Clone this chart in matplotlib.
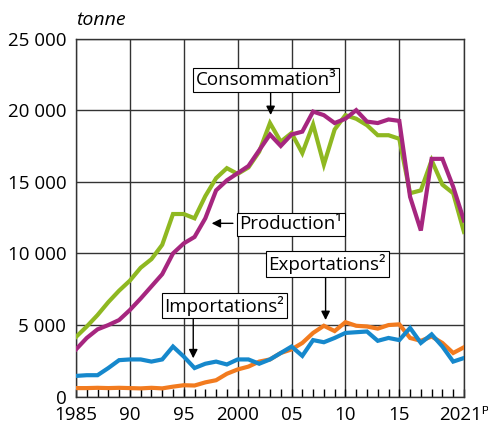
import matplotlib.pyplot as plt
import numpy as np

plt.rcParams["font.family"] = ["Open Sans", "DejaVu Sans"]

# ----------------------------- data (tonnes) -----------------------------
YEARS = list(range(1985, 2022))

CONSOMMATION = [4170, 4900, 5700, 6600, 7400, 8100, 9000, 9600, 10600, 12750,
                12750, 12450, 14000, 15250, 15950, 15550, 16000, 17100, 19100, 17800,
                18400, 17000, 19000, 16200, 18650, 19650, 19400, 18950, 18250, 18250,
                18000, 14200, 14400, 16500, 14800, 14200, 11500]

PRODUCTION = [3300, 4100, 4700, 5000, 5350, 6050, 6850, 7700, 8550, 10000,
              10700, 11150, 12450, 14400, 15100, 15600, 16100, 17200, 18300, 17500,
              18300, 18500, 19900, 19650, 19100, 19400, 20000, 19200, 19100, 19350,
              19250, 13950, 11600, 16600, 16600, 14650, 12300]

IMPORTATIONS = [1450, 1500, 1500, 2000, 2550, 2600, 2600, 2450, 2600, 3500,
                2800, 2000, 2300, 2450, 2250, 2600, 2600, 2300, 2600, 3050,
                3500, 2850, 3950, 3800, 4100, 4450, 4500, 4550, 3900, 4100,
                3950, 4800, 3750, 4350, 3500, 2450, 2700]

EXPORTATIONS = [600, 600, 620, 600, 620, 600, 580, 620, 580, 700,
                800, 780, 1000, 1150, 1600, 1900, 2100, 2450, 2600, 3050,
                3300, 3750, 4450, 4950, 4580, 5200, 4950, 4900, 4750, 5000,
                5050, 4100, 3900, 4200, 3750, 3050, 3450]

Y_TICKS = [0, 5000, 10000, 15000, 20000, 25000]
Y_LABELS = ["0", "5 000", "10 000", "15 000", "20 000", "25 000"]
X_TICKS = [1985, 1990, 1995, 2000, 2005, 2010, 2015, 2021]
X_LABELS = ["1985", "90", "95", "2000", "05", "10", "15", "2021ᴾ"]

GREEN = "#8fb821"
PURPLE = "#a6267f"
BLUE = "#1688cc"
ORANGE = "#f27b1f"

fig = plt.figure(figsize=(4.89, 4.26), dpi=100)
ax = fig.add_axes([0.1554, 0.0688, 0.7934, 0.8408])

ax.plot(YEARS, EXPORTATIONS, color=ORANGE, lw=3, solid_joinstyle="miter", zorder=3)
ax.plot(YEARS, IMPORTATIONS, color=BLUE, lw=3, solid_joinstyle="miter", zorder=3)
ax.plot(YEARS, CONSOMMATION, color=GREEN, lw=3, solid_joinstyle="miter", zorder=3)
ax.plot(YEARS, PRODUCTION, color=PURPLE, lw=3, solid_joinstyle="miter", zorder=4)

ax.set_xlim(1985, 2021)
ax.set_ylim(0, 25000)

ax.set_yticks(Y_TICKS)
ax.set_yticklabels(Y_LABELS)
ax.set_xticks(X_TICKS)
ax.set_xticklabels(X_LABELS)
ax.set_xticks(YEARS, minor=True)
ax.tick_params(axis="y", length=0, pad=7, labelsize=13.5)
ax.tick_params(axis="x", which="major", direction="in", length=6, width=1,
               pad=7, labelsize=13.5)
ax.tick_params(axis="x", which="minor", direction="in", length=6, width=1)

ax.grid(True, which="major", color="#333333", lw=1)
for s in ax.spines.values():
    s.set_color("#333333")
    s.set_linewidth(1)

fig.text(0.155, 0.941, "tonne", fontsize=14, style="italic", ha="left",
         va="baseline")

box = dict(boxstyle="square,pad=0.15", fc="white", ec="black", lw=0.8)
arrow = dict(arrowstyle="-|>", color="black", lw=1, mutation_scale=13,
             shrinkA=0, shrinkB=0)


def label(text, center, start, tip):
    ax.text(center[0], center[1], text, fontsize=13.5, ha="center", va="center",
            bbox=box, zorder=6)
    ax.annotate("", xy=tip, xytext=start, arrowprops=arrow, zorder=5)


label("Consommation³", (2002.64, 22120), (2003.06, 21270), (2003.06, 19660))
label("Production¹", (2004.94, 12020), (1999.56, 12100), (1997.59, 12100))
label("Exportations²", (2008.3, 9250), (2008.16, 8370), (2008.16, 5350))
label("Importations²", (1998.78, 6360), (1995.88, 5580), (1995.88, 2680))

fig.savefig("out.png", dpi=100)
